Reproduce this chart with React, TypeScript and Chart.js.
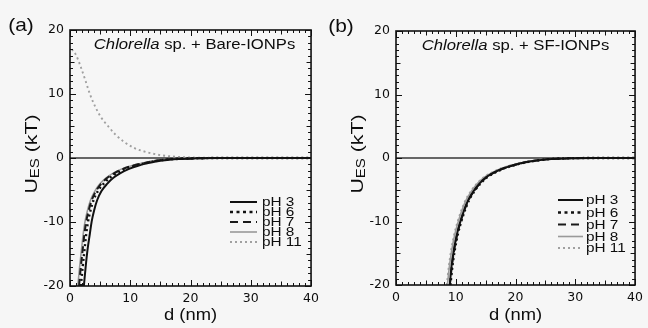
import React, { useEffect, useRef } from 'react';
import { Chart, registerables } from 'chart.js';
Chart.register(...registerables);

// ---------- data ----------
const X_TICK_VALUES = [0, 10, 20, 30, 40];
const Y_TICK_VALUES = [-20, -10, 0, 10, 20];
const LEGEND_LABELS = ['pH 3', 'pH 6', 'pH 7', 'pH 8', 'pH 11'];
const ZERO_D = [0, 40];
const ZERO_U = [0, 0];

// Panel (a): Chlorella sp. + Bare-IONPs
const A_NEG_U = [-20, -17, -14.4, -11.8, -9.9, -8.2, -6.6, -5.2, -4.0, -3.1, -2.4, -1.7, -1.2, -0.8, -0.4, -0.15, -0.05, 0, 0];
const A_PH3_D = [2.3, 2.6, 2.9, 3.3, 3.6, 4.0, 4.5, 5.2, 6.2, 7.2, 8.3, 9.8, 11.3, 13.0, 15.2, 18.0, 21.0, 25.0, 40.0];
const A_PH6_D = [1.8, 2.1, 2.4, 2.7, 3.0, 3.4, 3.9, 4.6, 5.6, 6.6, 7.7, 9.2, 10.8, 12.6, 14.8, 17.6, 21.0, 25.0, 40.0];
const A_PH7_D = [1.5, 1.8, 2.1, 2.4, 2.7, 3.1, 3.6, 4.3, 5.2, 6.2, 7.3, 8.8, 10.4, 12.2, 14.4, 17.3, 21.0, 25.0, 40.0];
const A_PH8_D = [1.3, 1.6, 1.9, 2.2, 2.5, 2.9, 3.4, 4.1, 5.0, 6.0, 7.1, 8.6, 10.2, 12.0, 14.2, 17.2, 21.0, 25.0, 40.0];
const A_PH11_D = [0.3, 1.0, 1.8, 2.6, 3.3, 4.2, 5.2, 6.3, 7.5, 9.0, 10.8, 12.8, 15.0, 17.5, 20.0, 23.0, 27.0, 40.0];
const A_PH11_U = [17.0, 16.1, 14.2, 12.0, 10.0, 8.0, 6.3, 5.0, 3.7, 2.5, 1.5, 0.9, 0.45, 0.2, 0.08, 0.03, 0, 0];

// Panel (b): Chlorella sp. + SF-IONPs
const B_NEG_U = [-20, -17, -14.4, -12, -9.9, -8.2, -6.6, -5.2, -4.0, -3.1, -2.4, -1.7, -1.1, -0.7, -0.4, -0.15, -0.05, 0, 0];
const B_PH3_D = [9.0, 9.3, 9.7, 10.2, 10.8, 11.4, 12.1, 13.0, 14.0, 15.0, 16.2, 17.8, 19.8, 21.5, 23.5, 26.0, 29.0, 34.0, 40.0];
const B_PH6_D = [9.1, 9.45, 9.85, 10.35, 10.95, 11.55, 12.25, 13.15, 14.15, 15.15, 16.35, 17.9, 19.9, 21.6, 23.6, 26.0, 29.0, 34.0, 40.0];
const B_PH7_D = [9.0, 9.35, 9.75, 10.25, 10.85, 11.45, 12.15, 13.05, 14.05, 15.05, 16.25, 17.85, 19.85, 21.5, 23.5, 26.0, 29.0, 34.0, 40.0];
const B_PH8_D = [8.6, 8.95, 9.35, 9.85, 10.45, 11.05, 11.75, 12.65, 13.65, 14.7, 15.9, 17.5, 19.5, 21.2, 23.2, 25.8, 29.0, 34.0, 40.0];
const B_PH11_D = [8.5, 8.85, 9.25, 9.75, 10.35, 10.95, 11.65, 12.55, 13.55, 14.6, 15.8, 17.4, 19.4, 21.1, 23.1, 25.7, 29.0, 34.0, 40.0];

// ---------- styles ----------
const STYLES = [
  { color: '#111111', width: 2.0, dash: [] as number[] },
  { color: '#111111', width: 2.4, dash: [2, 3] },
  { color: '#1a1a1a', width: 2.0, dash: [7, 4] },
  { color: '#9a9a9a', width: 1.6, dash: [] as number[] },
  { color: '#a0a0a0', width: 1.9, dash: [2, 3] },
];
const ZERO_STYLE = { color: '#666666', width: 1.8 };
const BG = '#f6f6f6';
const FONT = '"Liberation Sans", Arial, sans-serif';

const zip = (xs: number[], ys: number[]) => xs.map((x, i) => ({ x, y: ys[i] }));

type Spec = {
  label: string;
  labelPos: [number, number];
  titleItalic: string;
  titleRest: string;
  titleShift: number;
  series: { x: number; y: number }[][];
  plot: { left: number; right: number; top: number; bottom: number };
  legend: { x0: number; x1: number; tx: number; ys: number[] };
  yTitle: [number, number];
};

const CW = 324;
const CH = 328;

function stext(ctx: CanvasRenderingContext2D, text: string, x: number, y: number, font: string, align: 'left' | 'center' | 'right', sx = 1.15) {
  ctx.save();
  ctx.font = font;
  ctx.textBaseline = 'middle';
  ctx.textAlign = 'left';
  const w = ctx.measureText(text).width * sx;
  const x0 = align === 'center' ? x - w / 2 : align === 'right' ? x - w : x;
  ctx.translate(x0, y);
  ctx.scale(sx, 1);
  ctx.fillText(text, 0, 0);
  ctx.restore();
  return w;
}

function makePlugin(spec: Spec) {
  return {
    id: 'decor',
    afterDatasetsDraw(chart: any) {
      const ctx: CanvasRenderingContext2D = chart.ctx;
      const xs = chart.scales.x;
      const ys = chart.scales.y;
      const { left, right, top, bottom } = chart.chartArea;
      ctx.save();
      ctx.strokeStyle = '#111';
      ctx.lineWidth = 1;
      for (let v = 0; v <= 40; v++) {
        const px = Math.round(xs.getPixelForValue(v)) + 0.5;
        const len = v % 10 === 0 ? 6 : v % 5 === 0 ? 4.5 : 3;
        ctx.beginPath();
        ctx.moveTo(px, bottom);
        ctx.lineTo(px, bottom - len);
        ctx.moveTo(px, top);
        ctx.lineTo(px, top + len);
        ctx.stroke();
      }
      for (let v = -20; v <= 20; v++) {
        const py = Math.round(ys.getPixelForValue(v)) + 0.5;
        const len = v % 10 === 0 ? 6 : v % 5 === 0 ? 4.5 : 3;
        ctx.beginPath();
        ctx.moveTo(left, py);
        ctx.lineTo(left + len, py);
        ctx.moveTo(right, py);
        ctx.lineTo(right - len, py);
        ctx.stroke();
      }
      ctx.lineWidth = 1.6;
      ctx.strokeRect(left, top, right - left, bottom - top);
      ctx.restore();
    },
    afterDraw(chart: any) {
      const ctx: CanvasRenderingContext2D = chart.ctx;
      const { left, right, top } = chart.chartArea;
      ctx.save();
      ctx.fillStyle = '#0d0d0d';
      // panel label
      stext(ctx, spec.label, spec.labelPos[0], spec.labelPos[1], `19px ${FONT}`, 'center', 1.1);
      // title inside plot
      const sxT = 1.19;
      const fI = `italic 14px ${FONT}`;
      const fN = `14px ${FONT}`;
      ctx.font = fI;
      const wI = ctx.measureText(spec.titleItalic).width * sxT;
      ctx.font = fN;
      const wN = ctx.measureText(spec.titleRest).width * sxT;
      const cx = (left + right) / 2;
      const tx = cx + spec.titleShift - (wI + wN) / 2;
      stext(ctx, spec.titleItalic, tx, top + 15, fI, 'left', sxT);
      stext(ctx, spec.titleRest, tx + wI, top + 15, fN, 'left', sxT);
      // x title
      stext(ctx, 'd (nm)', cx, 315, `17px ${FONT}`, 'center', 1.08);
      // y title (rotated)
      ctx.save();
      ctx.translate(spec.yTitle[0], spec.yTitle[1]);
      ctx.rotate(-Math.PI / 2);
      const fBig = `17px ${FONT}`;
      const fSub = `12px ${FONT}`;
      ctx.font = fBig;
      const wU = ctx.measureText('U').width;
      const wK = ctx.measureText(' (kT)').width;
      ctx.font = fSub;
      const wE = ctx.measureText('ES').width;
      const sx2 = 1.25;
      const total = (wU + wE + wK) * sx2;
      let x0 = -total / 2;
      stext(ctx, 'U', x0, 0, fBig, 'left', sx2);
      x0 += wU * sx2;
      stext(ctx, 'ES', x0, 4, fSub, 'left', sx2);
      x0 += wE * sx2;
      stext(ctx, ' (kT)', x0, 0, fBig, 'left', sx2);
      ctx.restore();
      // legend
      const lg = spec.legend;
      LEGEND_LABELS.forEach((lab, i) => {
        const st = STYLES[i];
        const y = lg.ys[i];
        ctx.save();
        ctx.strokeStyle = st.color;
        ctx.lineWidth = st.width;
        ctx.setLineDash(i === 2 ? [8, 5] : i === 1 ? [3, 3.5] : st.dash);
        ctx.beginPath();
        ctx.moveTo(lg.x0, y);
        ctx.lineTo(lg.x1, y);
        ctx.stroke();
        ctx.restore();
        stext(ctx, lab, lg.tx, y + 0.5, `13px ${FONT}`, 'left', 1.18);
      });
      ctx.restore();
    },
  };
}

function Panel({ spec, offset }: { spec: Spec; offset: number }) {
  const ref = useRef<HTMLCanvasElement>(null);
  useEffect(() => {
    if (!ref.current) return;
    const p = spec.plot;
    const datasets: any[] = spec.series.map((pts, i) => ({
      label: LEGEND_LABELS[i],
      data: pts,
      borderColor: STYLES[i].color,
      borderWidth: STYLES[i].width,
      borderDash: STYLES[i].dash,
      pointRadius: 0,
      fill: false,
      cubicInterpolationMode: 'monotone',
    }));
    datasets.push({
      label: 'zero',
      data: zip(ZERO_D, ZERO_U),
      borderColor: ZERO_STYLE.color,
      borderWidth: ZERO_STYLE.width,
      pointRadius: 0,
      fill: false,
    });
    const tickFont = { family: '"DejaVu Sans", sans-serif', size: 12.5 };
    const chart = new Chart(ref.current, {
      type: 'line',
      data: { datasets },
      plugins: [makePlugin(spec) as any],
      options: {
        animation: false,
        responsive: false,
        devicePixelRatio: 1,
        layout: { padding: { left: 0, top: p.top, right: CW - p.right, bottom: 0 } },
        plugins: { legend: { display: false }, tooltip: { enabled: false } },
        scales: {
          x: {
            type: 'linear',
            min: 0,
            max: 40,
            afterFit: (s: any) => { s.height = CH - p.bottom; },
            afterBuildTicks: (s: any) => { s.ticks = X_TICK_VALUES.map((v) => ({ value: v })); },
            grid: { display: false, drawTicks: false },
            border: { display: false },
            ticks: { color: '#0d0d0d', padding: 5, maxRotation: 0, font: tickFont },
          },
          y: {
            type: 'linear',
            min: -20,
            max: 20,
            afterFit: (s: any) => { s.width = p.left; },
            afterBuildTicks: (s: any) => { s.ticks = Y_TICK_VALUES.map((v) => ({ value: v })); },
            grid: { display: false, drawTicks: false },
            border: { display: false },
            ticks: { color: '#0d0d0d', padding: 6, font: tickFont },
          },
        },
      } as any,
    });
    return () => chart.destroy();
  }, []);
  return (
    <canvas
      ref={ref}
      width={CW}
      height={CH}
      style={{ position: 'absolute', left: offset, top: 0, width: CW, height: CH }}
    />
  );
}

const SPEC_A: Spec = {
  label: '(a)',
  labelPos: [21, 26],
  titleItalic: 'Chlorella',
  titleRest: ' sp. + Bare-IONPs',
  titleShift: 4,
  series: [
    zip(A_PH3_D, A_NEG_U),
    zip(A_PH6_D, A_NEG_U),
    zip(A_PH7_D, A_NEG_U),
    zip(A_PH8_D, A_NEG_U),
    zip(A_PH11_D, A_PH11_U),
  ],
  plot: { left: 70, right: 315, top: 30, bottom: 286 },
  legend: { x0: 230, x1: 257, tx: 262, ys: [202, 212, 222, 232, 242] },
  yTitle: [32, 154],
};

const SPEC_B: Spec = {
  label: '(b)',
  labelPos: [17, 27],
  titleItalic: 'Chlorella',
  titleRest: ' sp. + SF-IONPs',
  titleShift: 0,
  series: [
    zip(B_PH3_D, B_NEG_U),
    zip(B_PH6_D, B_NEG_U),
    zip(B_PH7_D, B_NEG_U),
    zip(B_PH8_D, B_NEG_U),
    zip(B_PH11_D, B_NEG_U),
  ],
  plot: { left: 72, right: 316, top: 31, bottom: 285 },
  legend: { x0: 234, x1: 259, tx: 262, ys: [200, 212.5, 224.5, 236.5, 248] },
  yTitle: [34, 154],
};

export default function App() {
  return (
    <div style={{ position: 'absolute', left: 0, top: 0, width: 648, height: 328, background: BG, overflow: 'hidden' }}>
      <Panel spec={SPEC_A} offset={0} />
      <Panel spec={SPEC_B} offset={CW} />
    </div>
  );
}
